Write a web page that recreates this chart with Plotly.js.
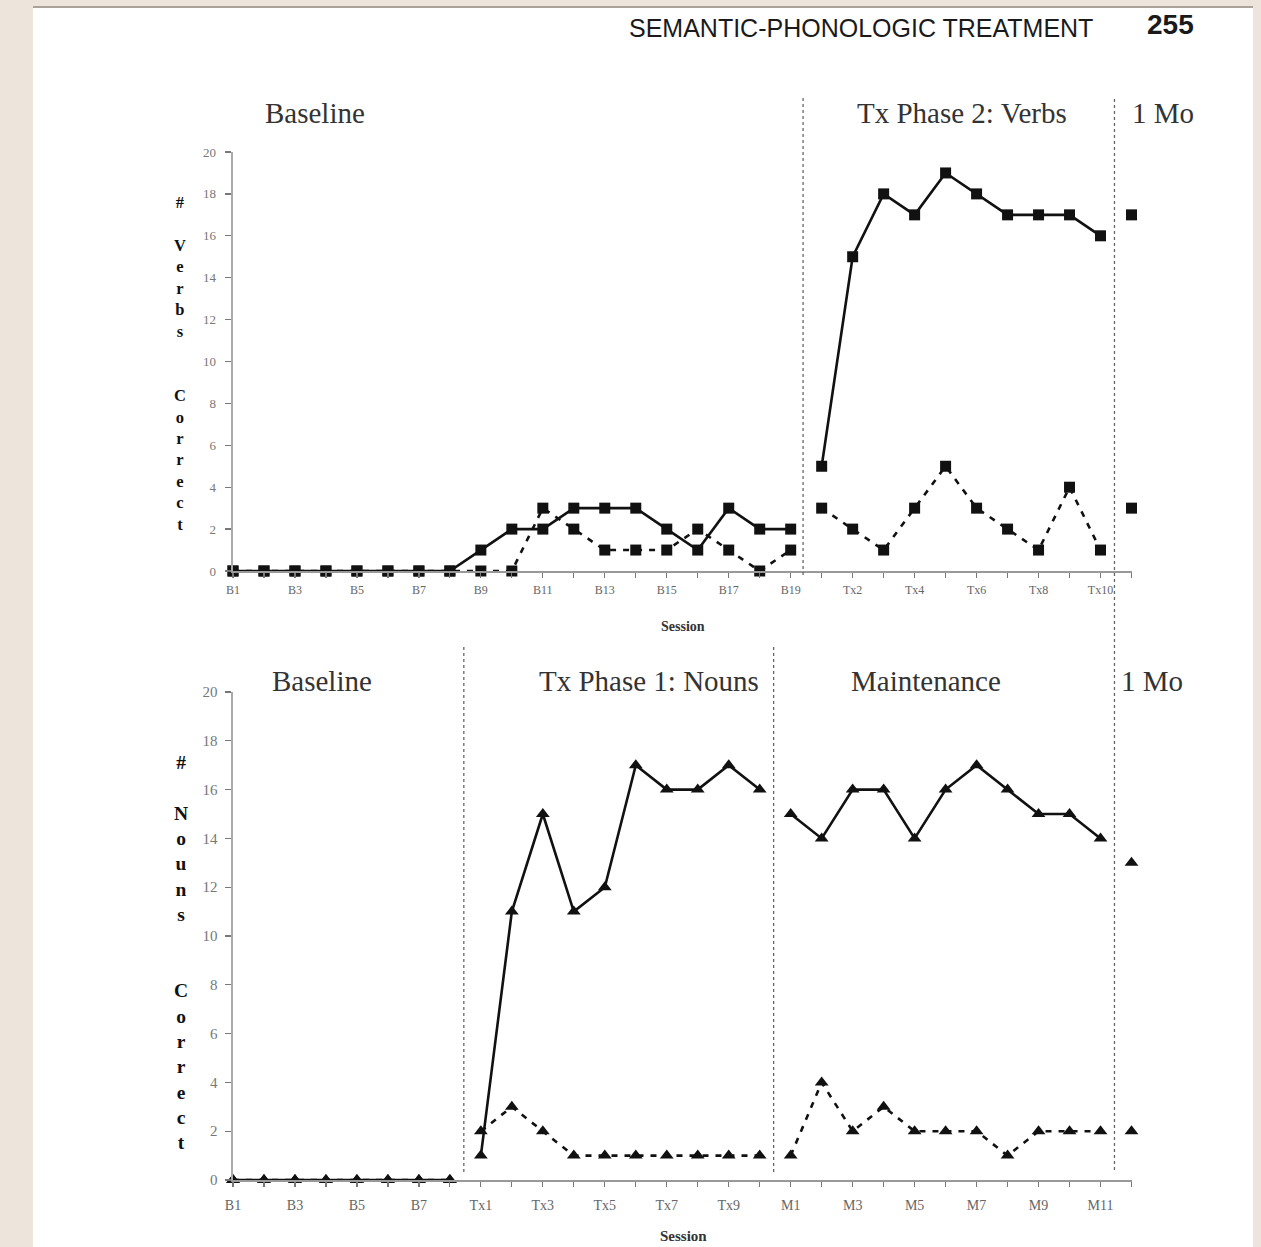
<!DOCTYPE html>
<html>
<head>
<meta charset="utf-8">
<script src="https://cdn.plot.ly/plotly-3.0.1.min.js"></script>
<style>
  html, body { margin: 0; padding: 0; background: #ede5db; }
  #chart { width: 1261px; height: 1247px; }
</style>
</head>
<body>
<div id="chart"></div>
<script>
// ---------- DATA ----------
const verbSessions = ["B1","B2","B3","B4","B5","B6","B7","B8","B9","B10","B11","B12","B13","B14","B15","B16","B17","B18","B19",
  "Tx1","Tx2","Tx3","Tx4","Tx5","Tx6","Tx7","Tx8","Tx9","Tx10","1 Mo"];
const verbsSolid  = [0,0,0,0,0,0,0,0,1,2,2,3,3,3,2,1,3,2,2, 5,15,18,17,19,18,17,17,17,16, 17];
const verbsDashed = [0,0,0,0,0,0,0,0,0,0,3,2,1,1,1,2,1,0,1, 3,2,1,3,5,3,2,1,4,1, 3];
const verbPhaseLengths = [19, 10, 1];
const verbPhaseNames = ["Baseline", "Tx Phase 2: Verbs", "1 Mo"];

const nounSessions = ["B1","B2","B3","B4","B5","B6","B7","B8",
  "Tx1","Tx2","Tx3","Tx4","Tx5","Tx6","Tx7","Tx8","Tx9","Tx10",
  "M1","M2","M3","M4","M5","M6","M7","M8","M9","M10","M11","1 Mo"];
const nounsSolid  = [0,0,0,0,0,0,0,0, 1,11,15,11,12,17,16,16,17,16, 15,14,16,16,14,16,17,16,15,15,14, 13];
const nounsDashed = [0,0,0,0,0,0,0,0, 2,3,2,1,1,1,1,1,1,1, 1,4,2,3,2,2,2,1,2,2,2, 2];
const nounPhaseLengths = [8, 10, 11, 1];
const nounPhaseNames = ["Baseline", "Tx Phase 1: Nouns", "Maintenance", "1 Mo"];

const yTitleVerbs = "# Verbs Correct";
const yTitleNouns = "# Nouns Correct";
const xTitle = "Session";
const headerText = "SEMANTIC-PHONOLOGIC TREATMENT";
const pageNumber = "255";

// ---------- LAYOUT HELPERS ----------
const W = 1261, H = 1247;
const px = x => x / W;
const py = y => 1 - y / H;
const SERIF = "Liberation Serif, Times New Roman, serif";
const SANS = "Liberation Sans Narrow, Arial Narrow, Liberation Sans, Arial, sans-serif";

function phaseTraces(cats, vals, lengths, xa, ya, symbol, msize, dashed) {
  const out = [];
  let start = 0;
  lengths.forEach(len => {
    out.push({
      type: "scatter",
      mode: len > 1 ? "lines+markers" : "markers",
      x: cats.slice(start, start + len),
      y: vals.slice(start, start + len),
      xaxis: xa, yaxis: ya,
      line: { color: "#111", width: 2.6, dash: dashed ? "6px,7px" : "solid" },
      marker: { symbol: symbol, size: msize, color: "#111" },
      cliponaxis: false,
      showlegend: false,
      hoverinfo: "x+y"
    });
    start += len;
  });
  return out;
}

function stackedTitle(t) {
  const words = t.split(" ");
  return words.map(w => w.split("").join("<br>")).join("<br><br><br>").replace("#<br><br><br>", "#<br><br>");
}

function tickText(cats) { return cats.map((c, i) => (i % 2 === 0 ? c : "")); }

const traces = [
  ...phaseTraces(verbSessions, verbsDashed, verbPhaseLengths, "x", "y", "square", 11, true),
  ...phaseTraces(verbSessions, verbsSolid, verbPhaseLengths, "x", "y", "square", 11, false),
  ...phaseTraces(nounSessions, nounsDashed, nounPhaseLengths, "x2", "y2", "triangle-up", 12, true),
  ...phaseTraces(nounSessions, nounsSolid, nounPhaseLengths, "x2", "y2", "triangle-up", 12, false)
];

const xDomain = [px(233), px(1131.5)];

function xAxis(cats, anchor, fsize, standoff) {
  return {
    domain: xDomain, anchor: anchor, type: "category",
    range: [0, cats.length - 1],
    tickmode: "array", tickvals: cats, ticktext: tickText(cats),
    ticks: "outside", ticklen: 5, tickwidth: 1.2, tickcolor: "#777",
    ticklabelstandoff: standoff,
    showline: true, linecolor: "#999", linewidth: 2,
    showgrid: false, zeroline: false, fixedrange: true,
    tickfont: { family: SERIF, size: fsize, color: "#666" }
  };
}
function yAxis(dom, anchor, fsize, standoff) {
  return {
    domain: dom, anchor: anchor, range: [0, 20],
    tickmode: "linear", tick0: 0, dtick: 2,
    ticks: "outside", ticklen: 6, tickwidth: 1.2, tickcolor: "#777",
    ticklabelstandoff: standoff,
    showline: true, linecolor: "#aaa", linewidth: 2.5,
    showgrid: false, zeroline: false, fixedrange: true,
    tickfont: { family: SERIF, size: fsize, color: "#777" }
  };
}

const shapes = [
  { type: "rect", xref: "paper", yref: "paper", x0: px(33), x1: px(1253), y0: 0, y1: py(8),
    fillcolor: "#ffffff", line: { width: 0 }, layer: "below" },
  { type: "line", xref: "paper", yref: "paper", x0: px(33), x1: px(1253), y0: py(7), y1: py(7),
    line: { color: "#aaa39a", width: 2 }, layer: "below" },
  // phase dividers (top)
  { type: "line", xref: "x", yref: "paper", x0: 18.4, x1: 18.4, y0: py(575), y1: py(96),
    line: { color: "#666", width: 1.3, dash: "dot" } },
  { type: "line", xref: "x", yref: "paper", x0: 28.45, x1: 28.45, y0: py(1170), y1: py(96),
    line: { color: "#666", width: 1.3, dash: "dot" } },
  // phase dividers (bottom)
  { type: "line", xref: "x2", yref: "paper", x0: 7.45, x1: 7.45, y0: py(1172), y1: py(646),
    line: { color: "#666", width: 1.3, dash: "dot" } },
  { type: "line", xref: "x2", yref: "paper", x0: 17.45, x1: 17.45, y0: py(1172), y1: py(646),
    line: { color: "#666", width: 1.3, dash: "dot" } }
];

function ann(text, x, y, size, opts) {
  return Object.assign({
    text: text, xref: "paper", yref: "paper", x: px(x), y: py(y),
    xanchor: "center", yanchor: "middle", showarrow: false,
    font: { family: SERIF, size: size, color: "#333" }
  }, opts || {});
}

const annotations = [
  ann(headerText, 1095, 28, 25, { xanchor: "right",
    font: { family: SANS, size: 25, color: "#1a1a1a" } }),
  ann("<b>" + pageNumber + "</b>", 1196, 25, 28, { xanchor: "right",
    font: { family: SANS, size: 28, color: "#1a1a1a" } }),
  // top phase labels
  ann(verbPhaseNames[0], 315, 113, 29),
  ann(verbPhaseNames[1], 962, 113, 29),
  ann(verbPhaseNames[2], 1163, 113, 29),
  // bottom phase labels
  ann(nounPhaseNames[0], 322, 681, 29),
  ann(nounPhaseNames[1], 649, 681, 29),
  ann(nounPhaseNames[2], 926, 681, 29),
  ann(nounPhaseNames[3], 1152, 681, 29),
  // x titles
  ann("<b>" + xTitle + "</b>", 683, 626, 14, { font: { family: SERIF, size: 14, color: "#333" } }),
  ann("<b>" + xTitle + "</b>", 683, 1236, 15, { font: { family: SERIF, size: 15, color: "#333" } }),
  // stacked y titles
  ann("<b>" + stackedTitle(yTitleVerbs) + "</b>", 180, 363, 16.5,
      { font: { family: SERIF, size: 16.5, color: "#111" } }),
  ann("<b>" + stackedTitle(yTitleNouns) + "</b>", 181, 952, 19.5,
      { font: { family: SERIF, size: 19.5, color: "#111" } })
];

const layout = {
  width: W, height: H,
  margin: { l: 0, r: 0, t: 0, b: 0, pad: 0 },
  paper_bgcolor: "#ede5db",
  plot_bgcolor: "rgba(0,0,0,0)",
  showlegend: false,
  xaxis: xAxis(verbSessions, "y", 12, 2),
  yaxis: yAxis([py(571), py(152)], "x", 13, 6),
  xaxis2: xAxis(nounSessions, "y2", 14, 6),
  yaxis2: yAxis([py(1180), py(692)], "x2", 15, 4),
  shapes: shapes,
  annotations: annotations
};

Plotly.newPlot("chart", traces, layout, { displayModeBar: false, staticPlot: true });
</script>
</body>
</html>
